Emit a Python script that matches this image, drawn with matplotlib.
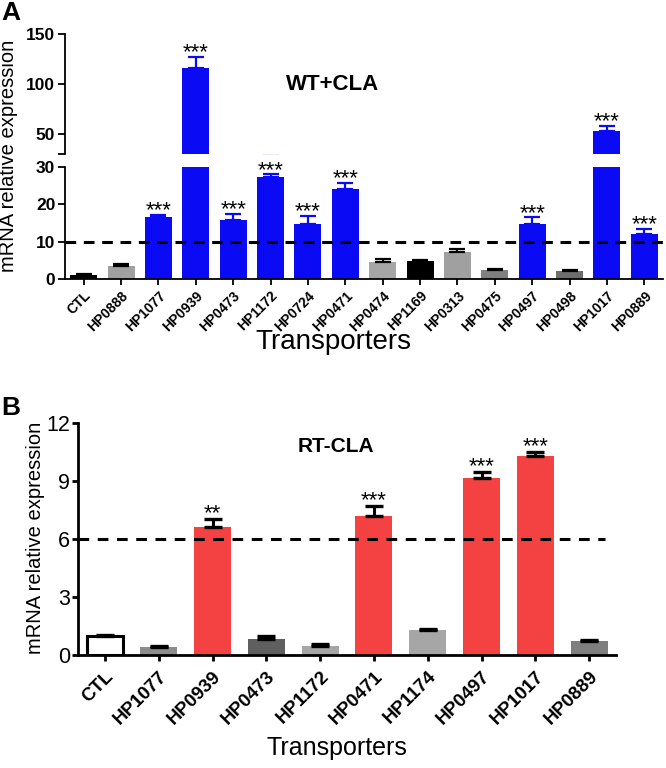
import matplotlib
matplotlib.use("Agg")
import matplotlib.pyplot as plt
import numpy as np

plt.rcParams['font.family'] = ['Liberation Sans', 'DejaVu Sans']

# ---------------- Panel A data ----------------
cats_a = ["CTL", "HP0888", "HP1077", "HP0939", "HP0473", "HP1172", "HP0724", "HP0471",
          "HP0474", "HP1169", "HP0313", "HP0475", "HP0497", "HP0498", "HP1017", "HP0889"]
vals_a = [1.0, 3.5, 16.6, 116.0, 15.8, 27.2, 14.6, 24.2,
          4.6, 4.9, 7.2, 2.5, 14.6, 2.1, 53.0, 12.0]
errs_a = [0.3, 0.5, 0.5, 11.0, 1.6, 0.8, 2.4, 1.5,
          0.7, 0.3, 0.8, 0.3, 1.9, 0.3, 5.0, 1.5]
stars_a = ["", "", "***", "***", "***", "***", "***", "***",
           "", "", "", "", "***", "", "***", "***"]
colors_a = ["#000000", "#a0a0a0", "#0a0af5", "#0a0af5", "#0a0af5", "#0a0af5", "#0a0af5", "#0a0af5",
            "#a6a6a6", "#000000", "#a0a0a0", "#808080", "#0a0af5", "#6e6e6e", "#0a0af5", "#0a0af5"]
ecolors_a = ["#000000", "#000000", "#0a0af5", "#0a0af5", "#0a0af5", "#0a0af5", "#0a0af5", "#0a0af5",
             "#000000", "#000000", "#000000", "#000000", "#0a0af5", "#000000", "#0a0af5", "#0a0af5"]
threshold_a = 10

# ---------------- Panel B data ----------------
cats_b = ["CTL", "HP1077", "HP0939", "HP0473", "HP1172", "HP0471", "HP1174", "HP0497", "HP1017", "HP0889"]
vals_b = [1.0, 0.4, 6.6, 0.85, 0.48, 7.2, 1.28, 9.17, 10.3, 0.7]
errs_b = [0.04, 0.05, 0.45, 0.12, 0.08, 0.5, 0.07, 0.3, 0.2, 0.08]
stars_b = ["", "", "**", "", "", "***", "", "***", "***", ""]
colors_b = ["#ffffff", "#8c8c8c", "#f44141", "#5f5f5f", "#a6a6a6", "#f44141", "#a6a6a6",
            "#f44141", "#f44141", "#7f7f7f"]
threshold_b = 6

W, H = 666, 768
fig = plt.figure(figsize=(W / 100, H / 100), dpi=100)


def box(x0, y0, x1, y1):
    return [x0 / W, 1 - y1 / H, (x1 - x0) / W, (y1 - y0) / H]


ax_up = fig.add_axes(box(65, 34, 663, 154))
ax_lo = fig.add_axes(box(65, 167, 663, 279))
ax_b = fig.add_axes(box(78, 423, 616, 655))

xa = np.arange(len(cats_a))
for ax in (ax_up, ax_lo):
    ax.bar(xa, vals_a, width=0.72, color=colors_a, edgecolor='none', zorder=2)
    for i in range(len(xa)):
        ax.errorbar(xa[i], vals_a[i], yerr=[[0], [errs_a[i]]], fmt='none',
                    ecolor=ecolors_a[i], elinewidth=1.6, capsize=5.5, capthick=1.6, zorder=3)
    ax.set_xlim(-0.5, len(cats_a) - 0.5)
    for s in ('top', 'right'):
        ax.spines[s].set_visible(False)
    ax.spines['left'].set_linewidth(1.3)
    ax.spines['bottom'].set_linewidth(1.3)
    ax.tick_params(axis='y', width=1.3, length=5, pad=2, labelsize=12)

ax_up.set_ylim(30, 150)
ax_up.set_yticks([30, 50, 100, 150])
ax_up.set_yticklabels(["", "50", "100", "150"], fontweight='bold', fontsize=12.5)
ax_up.spines['bottom'].set_visible(False)
ax_up.tick_params(axis='x', bottom=False, labelbottom=False)

ax_lo.set_ylim(0, 30)
ax_lo.set_yticks([0, 10, 20, 30])
ax_lo.set_yticklabels(["0", "10", "20", "30"], fontweight='bold', fontsize=12.5)
ax_lo.set_xticks(xa)
ax_lo.set_xticklabels(cats_a, rotation=45, ha='right', rotation_mode='anchor',
                      fontweight='bold', fontsize=10)
ax_lo.tick_params(axis='x', width=1.3, length=4, pad=3)
ax_lo.axhline(threshold_a, color='black', lw=2.2, ls=(0, (3.5, 2.5)), zorder=4)

for i in range(len(xa)):
    if stars_a[i]:
        top = vals_a[i] + errs_a[i]
        ax = ax_up if vals_a[i] > 30 else ax_lo
        ax.annotate(stars_a[i], (xa[i], top), xytext=(0, -1), textcoords='offset points',
                    ha='center', va='baseline', fontsize=16)

ax_up.text(0.447, 0.58, "WT+CLA", transform=ax_up.transAxes, ha='center', va='center',
           fontsize=16, fontweight='bold')

fig.text(9 / W, 1 - 156 / H, "mRNA relative expression", rotation=90, ha='center', va='center',
         fontsize=14.5)
fig.text(333 / W, 1 - 342 / H, "Transporters", ha='center', va='center', fontsize=20)
fig.text(1 / W, 1 - 1 / H, "A", ha='left', va='top', fontsize=19, fontweight='bold')

# ---------------- Panel B ----------------
xb = np.arange(len(cats_b))
ax_b.bar(xb, vals_b, width=0.69, color=colors_b, edgecolor='none', zorder=2)
ax_b.bar(xb[0], vals_b[0], width=0.69 - 0.03, color=colors_b[0], edgecolor='black', linewidth=2.2, zorder=2)
ax_b.errorbar(xb, vals_b, yerr=[np.zeros(len(xb)), errs_b], fmt='none', ecolor='black',
              elinewidth=2.2, capsize=6.5, capthick=2.4, zorder=3)
ax_b.set_xlim(-0.5, len(cats_b) - 0.5)
ax_b.set_ylim(0, 12)
ax_b.set_yticks([0, 3, 6, 9, 12])
ax_b.set_yticklabels(["0", "3", "6", "9", "12"], fontsize=15.5)
ax_b.set_xticks(xb)
ax_b.set_xticklabels(cats_b, rotation=45, ha='right', rotation_mode='anchor',
                     fontweight='bold', fontsize=13.5)
for s in ('top', 'right'):
    ax_b.spines[s].set_visible(False)
ax_b.spines['left'].set_linewidth(2.0)
ax_b.spines['bottom'].set_linewidth(2.0)
ax_b.tick_params(axis='both', width=2.0, length=4.5)
ax_b.tick_params(axis='y', pad=1)
ax_b.tick_params(axis='x', pad=5)
ax_b.axhline(threshold_b, xmax=0.98, color='black', lw=2.2, ls=(0, (3.5, 2.8)), zorder=4)

for i in range(len(xb)):
    if stars_b[i]:
        top = vals_b[i] + errs_b[i]
        ax_b.annotate(stars_b[i], (xb[i], top), xytext=(0, 0), textcoords='offset points',
                      ha='center', va='baseline', fontsize=16)

ax_b.text(0.479, 0.9, "RT-CLA", transform=ax_b.transAxes, ha='center', va='center',
          fontsize=15, fontweight='bold')

fig.text(36 / W, 1 - 538 / H, "mRNA relative expression", rotation=90, ha='center', va='center',
         fontsize=14.5)
fig.text(337 / W, 1 - 748 / H, "Transporters", ha='center', va='center', fontsize=18)
fig.text(1 / W, 1 - 396 / H, "B", ha='left', va='top', fontsize=19, fontweight='bold')

fig.savefig("out.png", dpi=100)
